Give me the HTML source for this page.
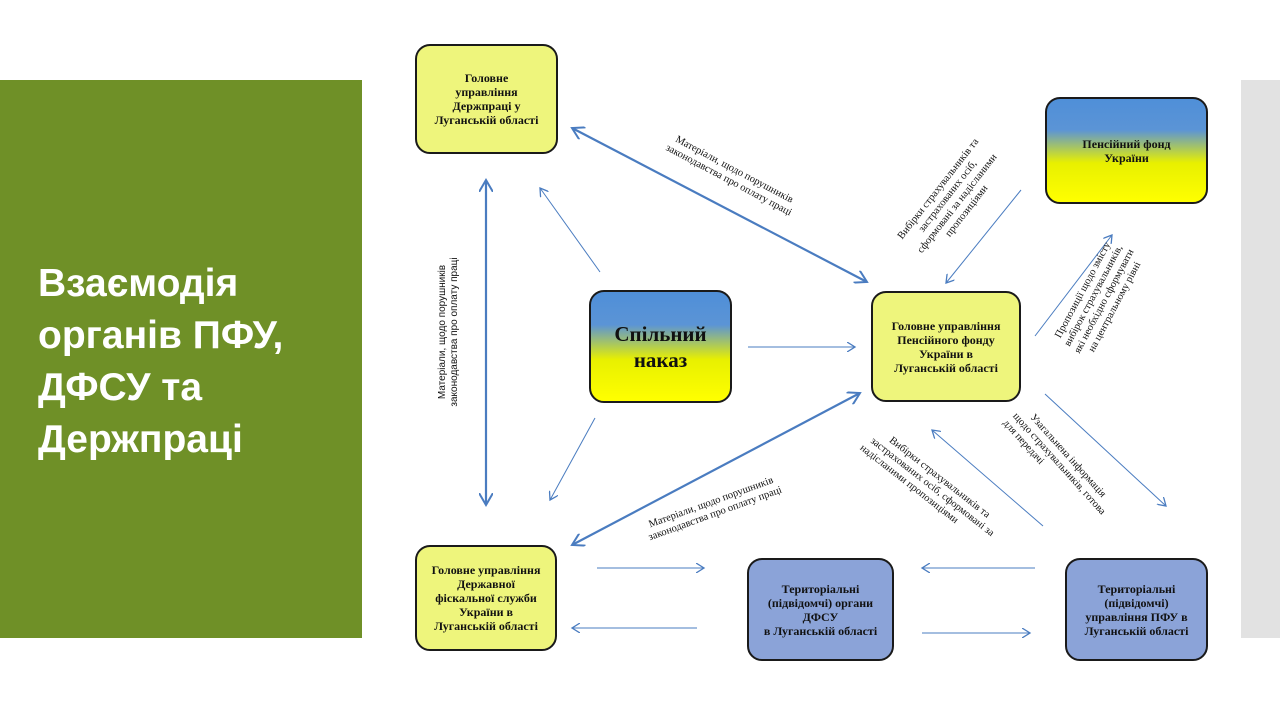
<!DOCTYPE html>
<html><head><meta charset="utf-8"><style>
body{margin:0;width:1280px;height:720px;background:#fff;position:relative;overflow:hidden;font-family:"Liberation Serif",serif}
.green{position:absolute;left:0;top:80px;width:362px;height:558px;background:#6f9027}
.green div{position:absolute;left:38px;top:178px;color:#fff;font:bold 39px/52px "Liberation Sans",sans-serif}
.gray{position:absolute;left:1241px;top:80px;width:39px;height:558px;background:#e2e2e2}
.box{position:absolute;box-sizing:border-box;border:2px solid #1a1a1a;border-radius:15px;display:flex;align-items:center;justify-content:center;text-align:center;font-size:12px;line-height:14px;color:#111;font-weight:bold}
.y{background:#eef57c}
.b{background:#8ba3d8}
.g{background:linear-gradient(#4f8fd8 0%,#5b94d6 30%,#e8f000 62%,#ffff00 100%)}
svg{position:absolute;left:0;top:0}
</style></head><body>
<div class="green"><div>Взаємодія<br>органів ПФУ,<br>ДФСУ та<br>Держпраці</div></div>
<div class="gray"></div>
<svg width="1280" height="720">
<defs><marker id="a" markerWidth="10" markerHeight="10" refX="8" refY="5" orient="auto-start-reverse" markerUnits="userSpaceOnUse"><path d="M0,0 L8,5 L0,10" fill="none" stroke="#4a7cc0" stroke-width="1.3"/></marker>
<marker id="A" markerWidth="14" markerHeight="14" refX="12" refY="7" orient="auto-start-reverse" markerUnits="userSpaceOnUse"><path d="M0,0 L12,7 L0,14" fill="none" stroke="#4a7cc0" stroke-width="2"/></marker></defs>
<g stroke="#4a7cc0" fill="none">
<line x1="572" y1="128" x2="867" y2="282" stroke-width="2.2" marker-start="url(#A)" marker-end="url(#A)"/>
<line x1="486" y1="180" x2="486" y2="505" stroke-width="2.2" marker-start="url(#A)" marker-end="url(#A)"/>
<line x1="572" y1="545" x2="860" y2="393" stroke-width="2.2" marker-start="url(#A)" marker-end="url(#A)"/>
<line x1="600" y1="272" x2="540" y2="188" stroke-width="1" marker-end="url(#a)"/>
<line x1="595" y1="418" x2="550" y2="500" stroke-width="1" marker-end="url(#a)"/>
<line x1="748" y1="347" x2="855" y2="347" stroke-width="1" marker-end="url(#a)"/>
<line x1="1021" y1="190" x2="946" y2="283" stroke-width="1" marker-end="url(#a)"/>
<line x1="1035" y1="336" x2="1112" y2="235" stroke-width="1" marker-end="url(#a)"/>
<line x1="1045" y1="394" x2="1166" y2="506" stroke-width="1" marker-end="url(#a)"/>
<line x1="1043" y1="526" x2="932" y2="430" stroke-width="1" marker-end="url(#a)"/>
<line x1="597" y1="568" x2="704" y2="568" stroke-width="1" marker-end="url(#a)"/>
<line x1="697" y1="628" x2="572" y2="628" stroke-width="1" marker-end="url(#a)"/>
<line x1="1035" y1="568" x2="922" y2="568" stroke-width="1" marker-end="url(#a)"/>
<line x1="922" y1="633" x2="1030" y2="633" stroke-width="1" marker-end="url(#a)"/>
</g>
<g font-family="Liberation Serif,serif" font-size="10.5" fill="#111" text-anchor="middle">
<text transform="translate(733,172) rotate(28)"><tspan x="0" y="0">Матеріали, щодо порушників</tspan><tspan x="0" y="12">законодавства про оплату праці</tspan></text>
<text transform="translate(950,198) rotate(-52)"><tspan x="0" y="-12">Вибірки страхувальників та</tspan><tspan x="0" y="0">застрахованих осіб,</tspan><tspan x="0" y="12">сформовані за надісланими</tspan><tspan x="0" y="24">пропозиціями</tspan></text>
<text transform="translate(1096,297) rotate(-62)"><tspan x="0" y="-12">Пропозиції щодо змісту</tspan><tspan x="0" y="0">вибірок страхувальників,</tspan><tspan x="0" y="12">які необхідно сформувати</tspan><tspan x="0" y="24">на центральному рівні</tspan></text>
<text transform="translate(1060,463) rotate(48)"><tspan x="0" y="-8">Узагальнена інформація</tspan><tspan x="0" y="4">щодо страхувальників, готова</tspan><tspan x="-40" y="16">для передачі</tspan></text>
<text transform="translate(933,486) rotate(38)"><tspan x="0" y="-8">Вибірки страхувальників та</tspan><tspan x="0" y="4">застрахованих осіб, сформовані за</tspan><tspan x="-20" y="16">надісланими пропозиціями</tspan></text>
<text transform="translate(712,505) rotate(-20)"><tspan x="0" y="0">Матеріали, щодо порушників</tspan><tspan x="0" y="12">законодавства про оплату праці</tspan></text>
</g>
<g font-family="Liberation Sans,sans-serif" font-size="10" fill="#111" text-anchor="middle">
<text transform="translate(445,332) rotate(-90)"><tspan x="0" y="0">Матеріали, щодо порушників</tspan><tspan x="0" y="12">законодавства про оплату праці</tspan></text>
</g>
</svg>
<div class="box y" style="left:415px;top:44px;width:143px;height:110px">Головне<br>управління<br>Держпраці у<br>Луганській області</div>
<div class="box g" style="left:1045px;top:97px;width:163px;height:107px">Пенсійний фонд<br>України</div>
<div class="box g" style="left:589px;top:290px;width:143px;height:113px;font-size:21px;line-height:26px">Спільний<br>наказ</div>
<div class="box y" style="left:871px;top:291px;width:150px;height:111px">Головне управління<br>Пенсійного фонду<br>України в<br>Луганській області</div>
<div class="box y" style="left:415px;top:545px;width:142px;height:106px">Головне управління<br>Державної<br>фіскальної служби<br>України в<br>Луганській області</div>
<div class="box b" style="left:747px;top:558px;width:147px;height:103px">Територіальні<br>(підвідомчі) органи<br>ДФСУ<br>в Луганській області</div>
<div class="box b" style="left:1065px;top:558px;width:143px;height:103px">Територіальні<br>(підвідомчі)<br>управління ПФУ в<br>Луганській області</div>
</body></html>
